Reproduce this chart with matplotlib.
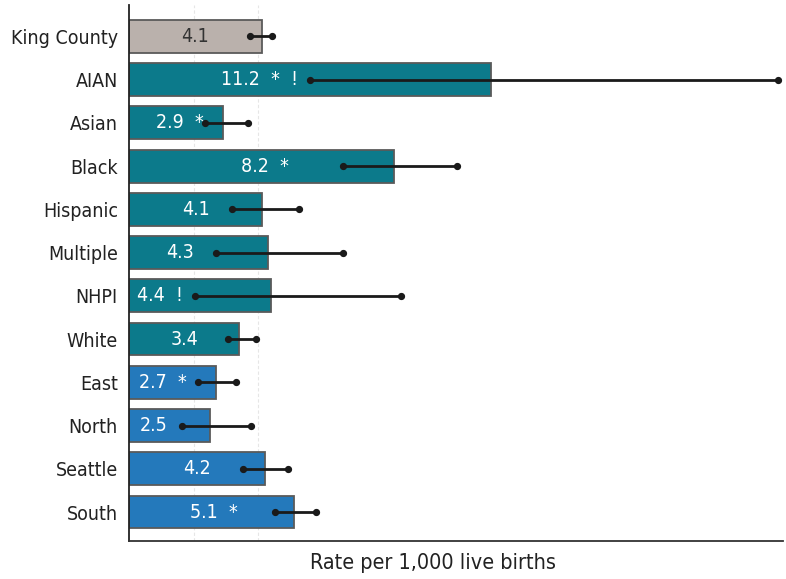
import matplotlib
matplotlib.use("Agg")
import matplotlib.pyplot as plt
import numpy as np

# =========================
# 1. DATA
# =========================
groups = ["King County", "AIAN", "Asian", "Black", "Hispanic", "Multiple",
          "NHPI", "White", "East", "North", "Seattle", "South"]
rates = [4.1, 11.2, 2.9, 8.2, 4.1, 4.3, 4.4, 3.4, 2.7, 2.5, 4.2, 5.1]
ci_low = [3.73, 5.59, 2.35, 6.60, 3.18, 2.69, 2.04, 3.06, 2.13, 1.64, 3.52, 4.51]
ci_high = [4.41, 20.06, 3.67, 10.12, 5.25, 6.60, 8.40, 3.92, 3.30, 3.77, 4.91, 5.77]
flags = ["", "*  !", "*", "*", "", "", "!", "", "*", "", "", "*"]
kinds = ["total", "race", "race", "race", "race", "race", "race", "race",
         "region", "region", "region", "region"]

# =========================
# 2. STYLE
# =========================
colors = {"total": "#bab1ac", "race": "#0c7a8b", "region": "#2479bb"}
text_colors = {"total": "#333333", "race": "white", "region": "white"}
# where the value label sits inside each bar (data units)
label_x = [2.04, 4.04, 1.57, 4.2, 2.07, 1.57, 0.95, 1.73, 1.05, 0.77, 2.1, 2.62]

plt.rcParams["font.family"] = ["DejaVu Sans Condensed", "Liberation Sans Narrow", "DejaVu Sans"]
plt.rcParams["font.stretch"] = "condensed"

fig = plt.figure(figsize=(7.86, 5.79), dpi=100)
ax = fig.add_axes([0.164, 0.0656, 0.832, 0.9254])

y = np.arange(len(groups))

# =========================
# 3. BARS + ERROR BARS
# =========================
ax.barh(y, rates, height=0.76, color=[colors[k] for k in kinds],
        edgecolor="#5a5a5a", linewidth=1.3, zorder=2)

for i in range(len(groups)):
    ax.plot([ci_low[i], ci_high[i]], [y[i], y[i]], color="#1a1a1a", lw=2,
            marker="o", markersize=4.2, zorder=4)
    txt = f"{rates[i]:.1f}"
    if flags[i]:
        txt += "  " + flags[i]
    ax.text(label_x[i], y[i], txt, ha="center", va="center", fontsize=14,
            color=text_colors[kinds[i]], zorder=5)

# faint grid
for gx in [2, 4]:
    ax.axvline(gx, color="#e6e6e6", lw=0.8, ls=(0, (3, 2)), zorder=1)

ax.set_xlim(0, 20.2)
ax.set_ylim(11.67, -0.72)
ax.set_yticks(y)
ax.set_yticklabels(groups, fontsize=14, color="#222222")
ax.tick_params(axis="y", length=0, pad=8)
ax.set_xticks([])

ax.spines["top"].set_visible(False)
ax.spines["right"].set_visible(False)
ax.spines["left"].set_color("#222222")
ax.spines["bottom"].set_color("#333333")
ax.spines["left"].set_linewidth(1.3)
ax.spines["bottom"].set_linewidth(1.3)

fig.text(433 / 786, 1 - 563 / 579, "Rate per 1,000 live births",
         ha="center", va="center", fontsize=15.5, color="#222222")

plt.savefig("out.png", dpi=100)
plt.close()
